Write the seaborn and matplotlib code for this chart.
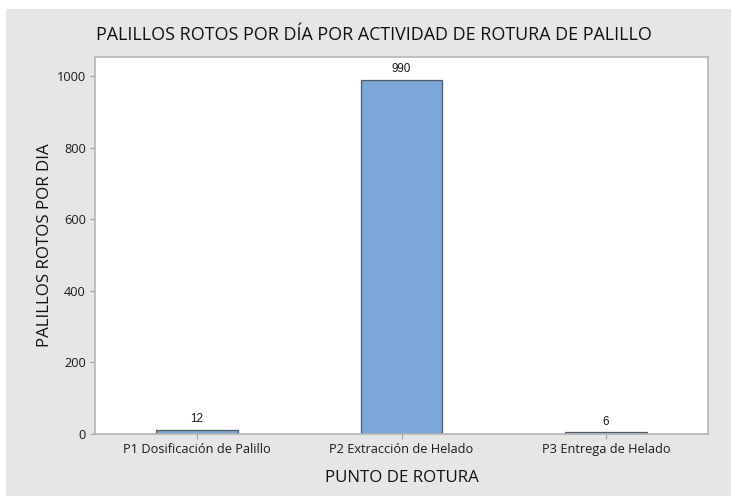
import matplotlib
matplotlib.use("Agg")
import matplotlib.pyplot as plt
import seaborn as sns
import pandas as pd
from matplotlib.patches import Rectangle

# Data
puntos = ["P1 Dosificación de Palillo", "P2 Extracción de Helado", "P3 Entrega de Helado"]
palillos_rotos = [12, 990, 6]
y_ticks = [0, 200, 400, 600, 800, 1000]

df = pd.DataFrame({"punto": puntos, "rotos": palillos_rotos})

sns.set_theme(style="white")
plt.rcParams["font.family"] = ["Open Sans", "DejaVu Sans"]

W, H = 731, 496
fig = plt.figure(figsize=(W / 100, H / 100), dpi=100)
fig.patch.set_facecolor("white")

# Gray panel behind the chart
fig.patches.append(Rectangle((6 / W, 0), 1 - 6 / W, 1 - 9 / H, transform=fig.transFigure,
                             facecolor="#e6e6e6", edgecolor="none", zorder=-10))

ax = fig.add_axes([95 / W, 1 - 434 / H, (708 - 95) / W, (434 - 57) / H])
ax.set_zorder(5)
ax.set_facecolor("white")

sns.barplot(data=df, x="punto", y="rotos", ax=ax, color="#7ba7d9",
            edgecolor="#505a66", linewidth=0.9, width=0.4, saturation=1)

for i, v in enumerate(palillos_rotos):
    ax.text(i, v + 12, str(v), ha="center", va="bottom", fontsize=8.4,
            family=["Liberation Sans", "DejaVu Sans"], color="#1a1a1a")

ax.set_xlim(-0.5, 2.5)
ax.set_ylim(0, 1053)
ax.set_yticks(y_ticks)
ax.tick_params(axis="both", which="both", direction="out", length=3.5, width=0.8,
               color="#a0a0a0", labelsize=9.2, labelcolor="#1a1a1a", pad=3)
ax.tick_params(left=True, bottom=True)

for s in ax.spines.values():
    s.set_color("#b4b4b4")
    s.set_linewidth(1.2)

ax.set_xlabel("PUNTO DE ROTURA", fontsize=12.2, color="#111111", labelpad=10)
ax.set_ylabel("PALILLOS ROTOS POR DIA", fontsize=12.2, color="#111111", labelpad=3)
fig.text(374 / W, 1 - 35 / H,
         "PALILLOS ROTOS POR DÍA POR ACTIVIDAD DE ROTURA DE PALILLO",
         ha="center", va="center", fontsize=12.9, color="#111111")

fig.savefig("out.png", dpi=100, facecolor=fig.get_facecolor())
